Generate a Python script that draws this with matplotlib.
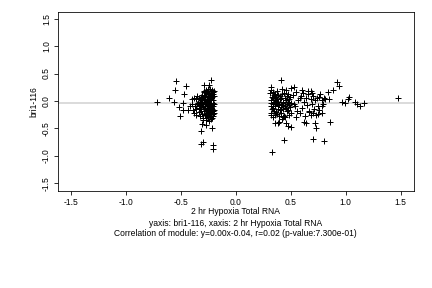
import matplotlib.pyplot as plt

# left cluster (2 hr Hypoxia Total RNA vs bri1-116)
left_x = [-0.72, -0.61, -0.545, -0.557, -0.56, -0.52, -0.51, -0.455, -0.47, -0.48,
          -0.48, -0.44, -0.42, -0.40, -0.39, -0.38, -0.364, -0.343, -0.33, -0.32,
          -0.32, -0.30, -0.31, -0.30, -0.286, -0.27, -0.244, -0.226, -0.22, -0.21,
          -0.21, -0.36, -0.35, -0.37, -0.34, -0.38, -0.40, -0.33, -0.35, -0.36]
left_y = [-0.02, 0.05, 0.36, 0.20, -0.02, -0.115, -0.27, 0.28, 0.13, -0.04,
          -0.16, -0.16, -0.09, 0.04, -0.16, -0.22, -0.255, -0.03, -0.09, -0.55,
          -0.78, -0.75, -0.42, -0.35, 0.29, -0.44, 0.29, 0.38, -0.50, -0.80,
          -0.88, 0.03, -0.05, -0.10, -0.20, 0.06, -0.06, -0.28, 0.09, -0.14]

# dense band of the left cluster
band_x = [-0.335, -0.328, -0.332, -0.325, -0.338, -0.321,
          -0.312, -0.305, -0.316, -0.309, -0.302, -0.314, -0.307, -0.318,
          -0.293, -0.286, -0.297, -0.289, -0.282, -0.295, -0.288, -0.291, -0.284, -0.298, -0.287,
          -0.274, -0.268, -0.277, -0.263, -0.271, -0.266, -0.279, -0.262, -0.273, -0.265, -0.276, -0.269,
          -0.255, -0.248, -0.258, -0.244, -0.251, -0.246, -0.257, -0.242, -0.253, -0.249, -0.256, -0.243, -0.252,
          -0.234, -0.228, -0.237, -0.224, -0.231, -0.226, -0.236, -0.222, -0.233, -0.229, -0.235, -0.225, -0.232,
          -0.215, -0.209, -0.213, -0.206, -0.211, -0.207, -0.214, -0.205, -0.212, -0.208, -0.216, -0.204,
          -0.201, -0.203, -0.200, -0.202, -0.201]
band_y = [0.05, -0.02, -0.08, -0.15, -0.12, 0.02,
          0.10, 0.04, -0.01, -0.06, -0.11, -0.18, -0.24, 0.07,
          0.16, 0.11, 0.06, 0.01, -0.04, -0.09, -0.14, -0.19, -0.26, -0.31, 0.19,
          0.20, 0.14, 0.09, 0.03, -0.02, -0.07, -0.12, -0.17, -0.22, -0.28, -0.34, 0.17,
          0.18, 0.13, 0.08, 0.04, -0.01, -0.05, -0.10, -0.15, -0.20, -0.25, -0.30, -0.36, 0.22,
          0.21, 0.15, 0.10, 0.06, 0.01, -0.03, -0.08, -0.13, -0.18, -0.23, -0.29, -0.33, -0.21,
          0.20, 0.12, 0.07, 0.02, -0.04, -0.09, -0.14, -0.19, -0.24, -0.27, -0.31, 0.16,
          0.18, 0.09, -0.06, -0.16, -0.22]

# right cluster, scattered points
right_x = [0.325, 0.41, 0.44, 0.505, 0.505, 0.53, 0.70, 0.80, 0.716, 0.725,
           0.617, 0.635, 0.86, 0.686, 0.69, 0.76, 0.785, 0.815, 0.84, 0.85,
           0.88, 0.917, 0.94, 0.97, 0.99, 1.02, 1.03, 1.08, 1.10, 1.13,
           1.17, 1.48, 0.78, 0.76, 0.78, 0.746, 0.686, 0.665,
           0.52, 0.53, 0.55, 0.56, 0.57, 0.58, 0.59, 0.60, 0.61, 0.62,
           0.63, 0.64, 0.65, 0.66, 0.67, 0.68, 0.69, 0.70, 0.71, 0.72,
           0.73, 0.74, 0.75, 0.77, 0.79, 0.80, 0.55, 0.60, 0.66, 0.70,
           0.54, 0.58, 0.47, 0.39, 0.36, 0.43]
right_y = [-0.93, 0.38, -0.71, -0.47, 0.24, 0.26, -0.69, -0.73, -0.41, -0.49,
           -0.38, -0.41, -0.39, 0.19, 0.145, 0.08, 0.02, 0.04, 0.16, 0.04,
           0.20, 0.35, 0.27, -0.01, -0.04, 0.03, 0.07, -0.01, -0.055, -0.09,
           -0.03, 0.05, -0.22, -0.16, -0.10, -0.24, -0.255, -0.175,
           0.10, -0.05, 0.16, -0.18, 0.02, -0.22, 0.09, -0.12, 0.14, -0.02,
           -0.28, 0.05, -0.08, 0.12, -0.20, 0.03, -0.05, 0.09, -0.15, 0.01,
           -0.25, 0.06, -0.10, 0.12, -0.05, 0.06, -0.30, 0.20, 0.18, -0.22,
           -0.10, 0.05, -0.45, -0.38, -0.40, -0.30]

# dense part of the right cluster
rband_x = [0.318, 0.322, 0.315, 0.327, 0.319, 0.324, 0.316, 0.329, 0.321, 0.317,
           0.338, 0.345, 0.334, 0.349, 0.341, 0.336, 0.347, 0.339,
           0.357, 0.364, 0.353, 0.368, 0.359, 0.362, 0.355,
           0.376, 0.383, 0.372, 0.387, 0.379, 0.385, 0.374, 0.381,
           0.398, 0.404, 0.393, 0.407, 0.401, 0.396,
           0.417, 0.424, 0.413, 0.428, 0.419, 0.426, 0.415, 0.422,
           0.437, 0.445, 0.433, 0.448, 0.439, 0.443,
           0.456, 0.463, 0.452, 0.467, 0.459, 0.465, 0.454,
           0.476, 0.484, 0.473, 0.487, 0.479, 0.482,
           0.497, 0.503, 0.494, 0.506]
rband_y = [0.25, 0.20, 0.14, 0.08, 0.02, -0.03, -0.09, -0.15, -0.22, -0.26,
           0.17, 0.10, 0.05, -0.01, -0.06, -0.12, -0.18, -0.30,
           0.13, 0.07, 0.01, -0.04, -0.10, -0.20, -0.26,
           0.18, 0.11, 0.04, -0.02, -0.08, -0.14, -0.24, -0.40,
           0.09, 0.03, -0.05, -0.11, -0.17, -0.28,
           0.21, 0.12, 0.05, -0.01, -0.07, -0.15, -0.22, -0.33,
           0.15, 0.06, -0.03, -0.10, -0.27, -0.30,
           0.20, 0.09, 0.02, -0.06, -0.12, -0.19, -0.40,
           0.13, 0.04, -0.02, -0.08, -0.16, -0.26,
           0.08, -0.04, -0.11, -0.22]

xs = left_x + band_x + right_x + rband_x
ys = left_y + band_y + right_y + rband_y

slope = 0.00
intercept = -0.04

plt.rcParams['font.family'] = ['Liberation Sans', 'DejaVu Sans']

fig = plt.figure(figsize=(6, 4), dpi=72)
ax = fig.add_axes([0.134, 0.337, 0.824, 0.621])

ax.axhline(intercept, color='#d0d0d0', lw=1.5, zorder=1)
ax.plot(xs, ys, ls='none', marker='+', ms=5.5, mew=1, color='black', zorder=2)

ax.set_xlim(-1.62, 1.62)
ax.set_ylim(-1.64, 1.62)
ticks = [-1.5, -1.0, -0.5, 0.0, 0.5, 1.0, 1.5]
tick_labels = ['-1.5', '-1.0', '-0.5', '0.0', '0.5', '1.0', '1.5']
ax.set_xticks(ticks)
ax.set_yticks(ticks)
ax.set_xticklabels(tick_labels)
ax.set_yticklabels(tick_labels, rotation=90, va='center')
ax.tick_params(labelsize=8.5, length=4, width=0.8, pad=3)
for s in ax.spines.values():
    s.set_linewidth(0.8)

ax.set_ylabel('bri1-116', fontsize=8.5, labelpad=3)
ax.set_xlabel('2 hr Hypoxia Total RNA', fontsize=8.5, labelpad=0)

cx = 0.5 * (0.134 + 0.958)
fig.text(cx, 1 - 223 / 288, 'yaxis: bri1-116, xaxis: 2 hr Hypoxia Total RNA',
         ha='center', va='center', fontsize=8.5)
fig.text(cx, 1 - 234 / 288,
         'Correlation of module: y=0.00x-0.04, r=0.02 (p-value:7.300e-01)',
         ha='center', va='center', fontsize=8.5)

fig.savefig('out.png', dpi=72)
